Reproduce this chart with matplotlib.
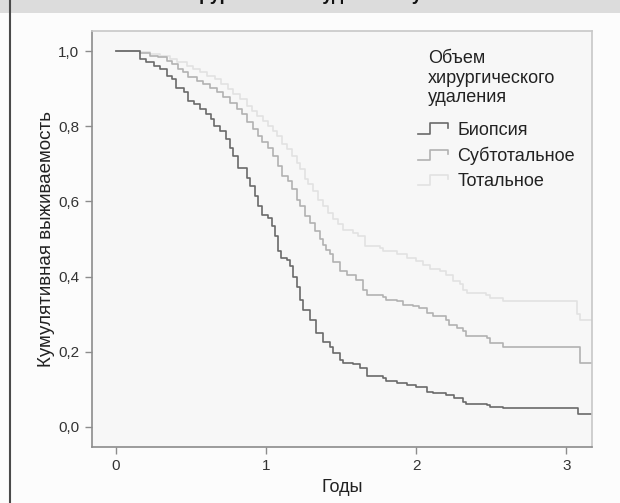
import matplotlib
matplotlib.use('Agg')
import matplotlib.pyplot as plt
from matplotlib.lines import Line2D
from matplotlib.patches import Rectangle
from matplotlib.legend_handler import HandlerBase

# Kaplan-Meier style survival curves by extent of surgical removal

plt.rcParams['font.family'] = ['Liberation Sans', 'DejaVu Sans']

# ==============================================================
# data

biopsy_t = [0, 0.16, 0.20, 0.25, 0.29, 0.34, 0.37, 0.40, 0.45, 0.48, 0.52, 0.56, 0.60,
            0.63, 0.65, 0.69, 0.73, 0.76, 0.78, 0.815, 0.87, 0.89, 0.925, 0.948, 0.97,
            1.014, 1.037, 1.06, 1.08, 1.10, 1.136, 1.158, 1.18, 1.205, 1.225, 1.247,
            1.29, 1.335, 1.38, 1.425, 1.447, 1.49, 1.51, 1.58, 1.625, 1.67, 1.78, 1.80,
            1.87, 1.94, 2.00, 2.07, 2.11, 2.20, 2.25, 2.31, 2.33, 2.47, 2.49, 2.58,
            3.08, 3.17]
biopsy_s = [1.0, 0.979, 0.970, 0.961, 0.952, 0.934, 0.925, 0.903, 0.890, 0.867, 0.859,
            0.845, 0.832, 0.819, 0.800, 0.787, 0.765, 0.743, 0.721, 0.690, 0.663, 0.641,
            0.614, 0.587, 0.565, 0.556, 0.534, 0.507, 0.467, 0.450, 0.445, 0.427, 0.400,
            0.373, 0.339, 0.312, 0.285, 0.250, 0.227, 0.214, 0.197, 0.179, 0.170, 0.168,
            0.157, 0.136, 0.130, 0.121, 0.118, 0.112, 0.107, 0.094, 0.090, 0.085, 0.077,
            0.067, 0.061, 0.059, 0.054, 0.050, 0.035, 0.035]

subtotal_t = [0, 0.16, 0.226, 0.28, 0.337, 0.37, 0.415, 0.448, 0.48, 0.537, 0.58, 0.626,
              0.67, 0.714, 0.759, 0.804, 0.837, 0.87, 0.914, 0.947, 0.97, 1.014, 1.047,
              1.08, 1.103, 1.147, 1.17, 1.203, 1.225, 1.258, 1.29, 1.325, 1.358, 1.38,
              1.40, 1.425, 1.447, 1.49, 1.536, 1.60, 1.646, 1.67, 1.78, 1.80, 1.87, 1.91,
              1.98, 2.02, 2.07, 2.11, 2.20, 2.22, 2.27, 2.31, 2.33, 2.47, 2.49, 2.58,
              3.09, 3.17]
subtotal_s = [1.0, 0.995, 0.988, 0.983, 0.974, 0.965, 0.952, 0.943, 0.930, 0.921, 0.912,
              0.903, 0.890, 0.877, 0.863, 0.845, 0.832, 0.812, 0.792, 0.774, 0.757, 0.743,
              0.721, 0.694, 0.667, 0.654, 0.632, 0.605, 0.587, 0.561, 0.543, 0.521, 0.499,
              0.485, 0.470, 0.460, 0.440, 0.415, 0.405, 0.392, 0.365, 0.352, 0.347, 0.339,
              0.334, 0.325, 0.321, 0.317, 0.303, 0.294, 0.285, 0.272, 0.263, 0.254, 0.241,
              0.236, 0.223, 0.214, 0.170, 0.170]

total_t = [0, 0.16, 0.226, 0.293, 0.36, 0.404, 0.47, 0.515, 0.56, 0.604, 0.66, 0.70,
           0.748, 0.781, 0.826, 0.87, 0.903, 0.937, 0.98, 1.014, 1.047, 1.07, 1.103,
           1.136, 1.17, 1.203, 1.225, 1.258, 1.28, 1.314, 1.347, 1.38, 1.414, 1.447,
           1.48, 1.514, 1.58, 1.613, 1.658, 1.758, 1.78, 1.87, 1.936, 2.0, 2.045, 2.09,
           2.157, 2.20, 2.246, 2.29, 2.31, 2.335, 2.467, 2.49, 2.58, 3.07, 3.09, 3.17]
total_s = [1.0, 0.997, 0.992, 0.986, 0.979, 0.970, 0.961, 0.952, 0.943, 0.934, 0.925,
           0.912, 0.899, 0.885, 0.872, 0.854, 0.841, 0.828, 0.814, 0.801, 0.787, 0.774,
           0.752, 0.739, 0.721, 0.703, 0.685, 0.659, 0.645, 0.627, 0.605, 0.587, 0.570,
           0.552, 0.539, 0.525, 0.516, 0.507, 0.481, 0.476, 0.467, 0.459, 0.450, 0.441,
           0.432, 0.419, 0.414, 0.405, 0.387, 0.379, 0.365, 0.357, 0.352, 0.343, 0.334,
           0.300, 0.285, 0.285]

group_names = ['Биопсия', 'Субтотальное', 'Тотальное']
group_colors = ['#6a6a6a', '#b2b2b2', '#e2e2e2']
legend_title = 'Объем\nхирургического\nудаления'
chart_title = 'Объем хирургического удаления у больных'

x_ticks = [0, 1, 2, 3]
y_ticks = [0.0, 0.2, 0.4, 0.6, 0.8, 1.0]
y_tick_labels = ['0,0', '0,2', '0,4', '0,6', '0,8', '1,0']


# step shaped legend key like the SPSS output
class StepHandler(HandlerBase):
    def create_artists(self, legend, orig_handle, xdescent, ydescent,
                       width, height, fontsize, trans):
        x0, y0 = -xdescent, -ydescent
        xs = [x0, x0 + 0.42 * width, x0 + 0.42 * width, x0 + width, x0 + width]
        ys = [y0 + 0.1 * height, y0 + 0.1 * height, y0 + 0.9 * height,
              y0 + 0.9 * height, y0 + 0.55 * height]
        line = Line2D(xs, ys, color=orig_handle.get_color(), lw=1.2)
        line.set_transform(trans)
        return [line]


# ==============================================================
# plot

fig = plt.figure(figsize=(6.2, 5.03), dpi=100, facecolor='#fcfcfc')

# grey header strip with the clipped title and the left frame line
fig.patches.append(Rectangle((0, 490 / 503), 1, 13 / 503, transform=fig.transFigure,
                             facecolor='#dcdcdc', edgecolor='none', zorder=0))
fig.lines.append(Line2D([10 / 620, 10 / 620], [0, 1], transform=fig.transFigure,
                        color='#4a4a4a', lw=1.5))
fig.text(0.5, 1 + 0.5 / 503, chart_title,
         ha='center', va='baseline', fontsize=13, fontweight='bold', color='#111111')

ax = fig.add_axes([91.7 / 620, 56 / 503, 500.3 / 620, 416 / 503])
ax.set_facecolor('#f7f7f7')

series = [(biopsy_t, biopsy_s), (subtotal_t, subtotal_s), (total_t, total_s)]
handles = []
# draw lightest first so the darker curves sit on top
for i in [2, 1, 0]:
    t, s = series[i]
    h, = ax.plot(t, s, drawstyle='steps-post', color=group_colors[i], lw=1.2)
    handles.append(h)
handles = handles[::-1]

ax.set_xlim(-0.162, 3.17)
ax.set_ylim(-0.0533, 1.0533)
ax.set_xticks(x_ticks)
ax.set_xticklabels([str(v) for v in x_ticks])
ax.set_yticks(y_ticks)
ax.set_yticklabels(y_tick_labels)

for side in ['left', 'bottom']:
    ax.spines[side].set_color('#8c8c8c')
    ax.spines[side].set_linewidth(1.2)
for side in ['top', 'right']:
    ax.spines[side].set_color('#c8c8c8')
    ax.spines[side].set_linewidth(1.2)

ax.tick_params(direction='out', length=5, width=1, color='#8c8c8c',
               labelsize=11, labelcolor='#333333', pad=4)

ax.set_xlabel('Годы', fontsize=13, color='#222222', labelpad=4)
ax.set_ylabel('Кумулятивная выживаемость', fontsize=13.5, color='#222222', labelpad=2)

# legend title as its own text block, indented like the original
ax.text(0.672, 0.954, legend_title, transform=ax.transAxes, ha='left', va='top',
        fontsize=13, color='#222222', linespacing=1.2)

leg = ax.legend(handles, group_names, handler_map={Line2D: StepHandler()},
                loc='upper left', bbox_to_anchor=(0.652, 0.7816), frameon=False,
                fontsize=13, borderpad=0, borderaxespad=0,
                handlelength=1.65, handleheight=0.7, handletextpad=0.55,
                labelspacing=0.45)
for txt in leg.get_texts():
    txt.set_color('#222222')

fig.savefig('out.png', dpi=100, facecolor=fig.get_facecolor())
